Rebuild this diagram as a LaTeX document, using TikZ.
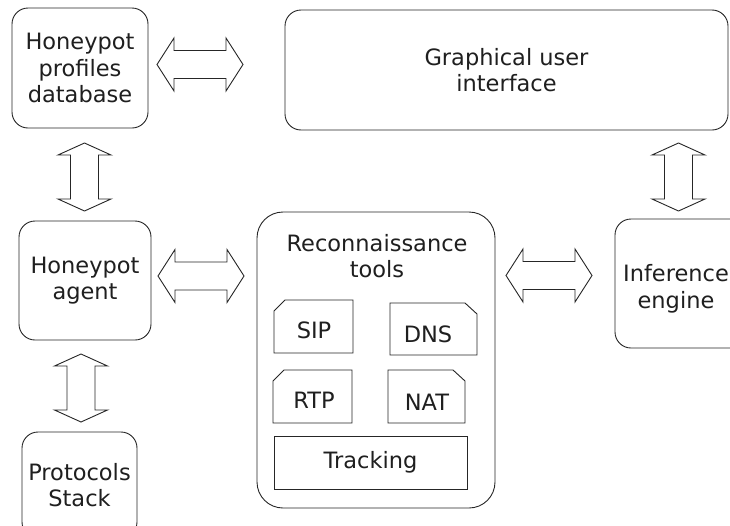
\documentclass[tikz,border=0pt]{standalone}
\usepackage{fontspec}
\setmainfont{DejaVu Sans}
\usetikzlibrary{calc}
\tikzset{
  every node/.style={font=\fontsize{22.5}{26.5}\selectfont, text=black!88},
  line/.style={draw=black!85, line width=0.9pt},
  rbox/.style={line, rounded corners=16pt, inner sep=0pt, align=center},
  label/.style={inner sep=0pt, align=center},
  pics/harrow/.style={code={
    \draw[line, line join=miter] (-43,0) -- (-26,26.5) -- (-26,14) -- (26,14) -- (26,26.5) -- (43,0)
      -- (26,-26.5) -- (26,-14) -- (-26,-14) -- (-26,-26.5) -- cycle;}},
  pics/varrow/.style={code={
    \draw[line, line join=miter] (0,-34) -- (26.5,-22) -- (14,-22) -- (14,22) -- (26.5,22) -- (0,34)
      -- (-26.5,22) -- (-14,22) -- (-14,-22) -- (-26.5,-22) -- cycle;}}
}
\begin{document}
\begin{tikzpicture}[x=1pt,y=-1pt]
\clip (0,0) rectangle (730,525);
\fill[white] (0,0) rectangle (730,525);

% main boxes
\node[rbox, minimum width=136pt, minimum height=120pt] (hpd) at (80,68) {Honeypot\\profiles\\database};
\node[rbox, minimum width=443pt, minimum height=120pt] (gui) at (506.5,70) {Graphical user\\interface};
\node[rbox, minimum width=132pt, minimum height=119pt] (agent) at (85,280.5) {Honeypot\\agent};
\node[rbox, minimum width=115pt, minimum height=106pt] (proto) at (79.5,485) {Protocols\\Stack};
\node[rbox, minimum width=135pt, minimum height=129pt] (inf) at (682.5,283.5) {};
\node[label] (inft) at (676,289) {Inference\\engine};
\node[rbox, rounded corners=26pt, minimum width=238pt, minimum height=296pt] (recon) at (376,360) {};
\node[label] (recont) at (377,256) {Reconnaissance\\tools};

% inner tools
\draw[line] (274,311) -- (285,300) -- (353,300) -- (353,353) -- (274,353) -- cycle;
\node[label] (sip) at (314,330) {SIP};
\draw[line] (390,303) -- (465,303) -- (477,314) -- (477,355) -- (390,355) -- cycle;
\node[label] (dns) at (428,334) {DNS};
\draw[line] (273,381) -- (284,370) -- (352,370) -- (352,423) -- (273,423) -- cycle;
\node[label] (rtp) at (314,400) {RTP};
\draw[line] (388,370) -- (453,370) -- (465,381) -- (465,423) -- (388,423) -- cycle;
\node[label] (nat) at (427,402) {NAT};
\node[line, minimum width=193pt, minimum height=53pt, inner sep=0pt] (track) at (370.5,462.5) {Tracking};

% block arrows
\pic at (200,64.5) {harrow};
\pic at (201,276) {harrow};
\pic at (549,275.5) {harrow};
\pic at (84.5,177) {varrow};
\pic at (678.5,177) {varrow};
\pic at (81,388) {varrow};
\end{tikzpicture}
\end{document}
